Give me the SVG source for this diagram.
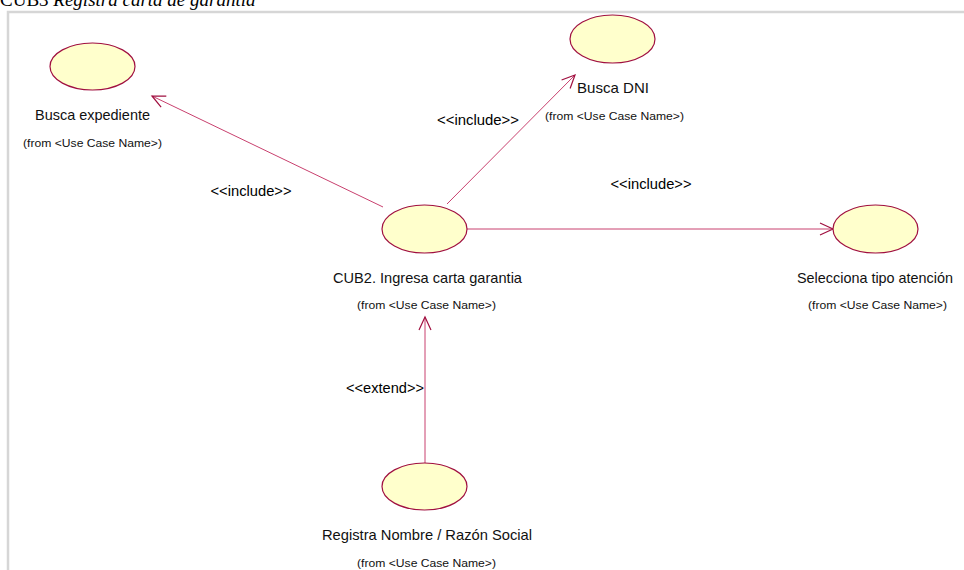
<svg xmlns="http://www.w3.org/2000/svg" width="964" height="570" viewBox="0 0 964 570">
<style>
.uc{fill:#ffffcc;stroke:#a01040;stroke-width:1.2}
.lbl{font-family:"Liberation Sans",Arial,sans-serif;font-size:15px;fill:#111}
.frm{font-family:"Liberation Sans",Arial,sans-serif;font-size:11.5px;fill:#111}
.st{font-family:"Liberation Sans",Arial,sans-serif;font-size:15px;fill:#000}
.ln{stroke:#c8406e;stroke-width:1;fill:none;marker-end:url(#open)}
</style>
<defs>
<marker id="open" viewBox="-15 -8 16 16" refX="0" refY="0" markerWidth="16" markerHeight="16" markerUnits="userSpaceOnUse" orient="auto" overflow="visible">
<path d="M-13,-6 L0,0 L-13,6" fill="none" stroke="#a01040" stroke-width="1.2"/>
</marker>
</defs>
<rect width="964" height="570" fill="#ffffff"/>
<text x="0" y="6" font-family="'Liberation Serif','Times New Roman',serif" font-size="19" fill="#000">CUB3 <tspan font-style="italic">Registra carta de garantia</tspan></text>
<path d="M8,570 V12 H964" fill="none" stroke="#d6d6d6" stroke-width="2.5"/>
<g id="connectors">
<line class="ln" x1="383" y1="207" x2="152" y2="96"/>
<line class="ln" x1="447" y1="204" x2="575" y2="75"/>
<line class="ln" x1="467" y1="229" x2="833" y2="229"/>
<line class="ln" x1="425" y1="463" x2="425" y2="317"/>
<text class="st" x="251" y="196" text-anchor="middle" textLength="81" lengthAdjust="spacingAndGlyphs">&lt;&lt;include&gt;&gt;</text>
<text class="st" x="478" y="125" text-anchor="middle" textLength="82" lengthAdjust="spacingAndGlyphs">&lt;&lt;include&gt;&gt;</text>
<text class="st" x="651" y="189" text-anchor="middle" textLength="81" lengthAdjust="spacingAndGlyphs">&lt;&lt;include&gt;&gt;</text>
<text class="st" x="385" y="393" text-anchor="middle" textLength="78" lengthAdjust="spacingAndGlyphs">&lt;&lt;extend&gt;&gt;</text>
</g>
<g id="busca-expediente">
<ellipse class="uc" cx="92.5" cy="66.5" rx="42.5" ry="23.5"/>
<text class="lbl" x="92.5" y="120" text-anchor="middle" textLength="115" lengthAdjust="spacingAndGlyphs">Busca expediente</text>
<text class="frm" x="92.5" y="147" text-anchor="middle" textLength="139" lengthAdjust="spacingAndGlyphs">(from &lt;Use Case Name&gt;)</text>
</g>
<g id="busca-dni">
<ellipse class="uc" cx="612.5" cy="39" rx="42.5" ry="24"/>
<text class="lbl" x="613" y="93" text-anchor="middle" textLength="72" lengthAdjust="spacingAndGlyphs">Busca DNI</text>
<text class="frm" x="614.5" y="120" text-anchor="middle" textLength="139" lengthAdjust="spacingAndGlyphs">(from &lt;Use Case Name&gt;)</text>
</g>
<g id="cub2">
<ellipse class="uc" cx="424.5" cy="229" rx="42.5" ry="24"/>
<text class="lbl" x="427.5" y="283" text-anchor="middle" textLength="189" lengthAdjust="spacingAndGlyphs">CUB2. Ingresa carta garantia</text>
<text class="frm" x="426.5" y="309" text-anchor="middle" textLength="139" lengthAdjust="spacingAndGlyphs">(from &lt;Use Case Name&gt;)</text>
</g>
<g id="selecciona-tipo">
<ellipse class="uc" cx="875.5" cy="229" rx="42.5" ry="24"/>
<text class="lbl" x="875" y="283" text-anchor="middle" textLength="156" lengthAdjust="spacingAndGlyphs">Selecciona tipo atención</text>
<text class="frm" x="877.5" y="309" text-anchor="middle" textLength="139" lengthAdjust="spacingAndGlyphs">(from &lt;Use Case Name&gt;)</text>
</g>
<g id="registra-nombre">
<ellipse class="uc" cx="424.5" cy="486.5" rx="42.5" ry="23.5"/>
<text class="lbl" x="427" y="540" text-anchor="middle" textLength="210" lengthAdjust="spacingAndGlyphs">Registra Nombre / Razón Social</text>
<text class="frm" x="426.5" y="567" text-anchor="middle" textLength="139" lengthAdjust="spacingAndGlyphs">(from &lt;Use Case Name&gt;)</text>
</g>
</svg>
